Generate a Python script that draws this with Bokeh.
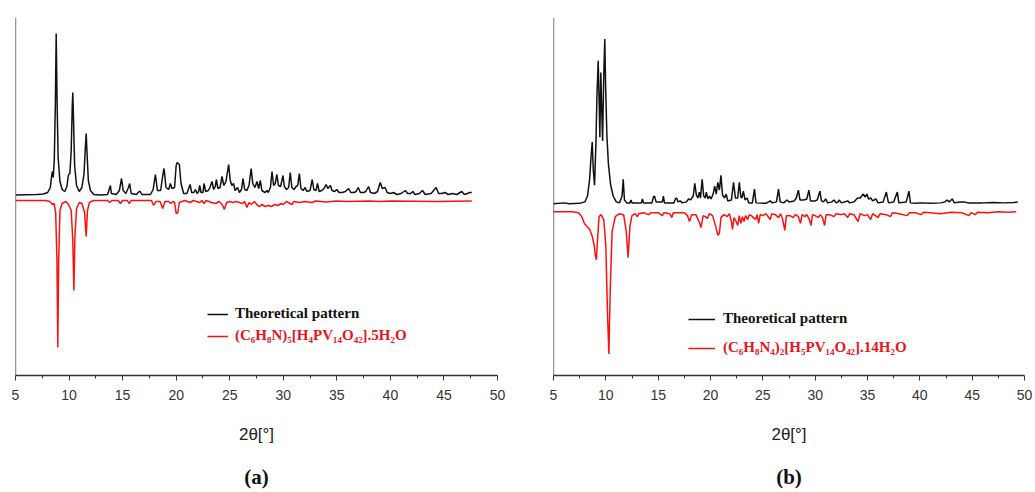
from bokeh.plotting import figure
from bokeh.models import Range1d, Span, Legend, LegendItem, LinearAxis, FixedTicker
from bokeh.layouts import row
from bokeh.embed import file_html
from bokeh.resources import INLINE

# ---------------- data (2theta, relative intensity) ----------------
x_ticks = [5, 10, 15, 20, 25, 30, 35, 40, 45, 50]
x_minor = [7.5, 12.5, 17.5, 22.5, 27.5, 32.5, 37.5, 42.5, 47.5]

label_theo = "Theoretical pattern"
label_a = "(C\u2086H\u2088N)\u2085[H\u2084PV\u2081\u2084O\u2084\u2082].5H\u2082O"
label_b = "(C\u2086H\u2088N\u2084)\u2082[H\u2085PV\u2081\u2084O\u2084\u2082].14H\u2082O"

# panel (a): theoretical pattern
theo_a = [(5.0,0.5),(6.0,0.8),(7.0,1),(7.6,1.5),(8.0,3),(8.25,8),(8.38,20),(8.45,24),(8.52,18),(8.62,35),(8.72,90),(8.8,162),(8.88,95),(8.98,38),(9.15,14),(9.35,6),(9.6,4),(9.8,9),(9.93,20),(9.98,21),(10.08,22),(10.2,45),(10.3,90),(10.35,103),(10.42,75),(10.52,30),(10.7,10),(10.95,4),(11.2,8),(11.4,22),(11.52,48),(11.6,62),(11.68,42),(11.8,15),(12.0,5),(12.3,1),(13.0,0.5),(13.6,1),(13.8,8),(13.86,10),(13.95,2),(14.4,1),(14.7,5),(14.9,17),(15.05,5),(15.3,2),(15.55,8),(15.66,12),(15.8,2),(16.3,1),(16.55,4),(16.65,4),(16.8,1),(17.6,1),(17.85,6),(18.06,21),(18.25,5),(18.55,5),(18.75,20),(18.87,27),(19.05,8),(19.3,6),(19.46,12),(19.6,7),(19.85,8),(20.0,30),(20.1,33),(20.3,31),(20.45,12),(20.7,2),(21.0,2),(21.2,8),(21.3,11),(21.45,3),(21.65,3),(21.8,6),(21.95,2),(22.1,4),(22.2,10),(22.32,3),(22.5,3),(22.6,12),(22.75,4),(23.0,5),(23.15,8),(23.35,14),(23.5,6),(23.65,9),(23.75,16),(23.9,7),(24.1,8),(24.28,19),(24.45,10),(24.65,14),(24.9,31),(25.05,15),(25.2,10),(25.36,12),(25.5,5),(25.74,8),(25.9,3),(26.1,6),(26.24,17),(26.4,6),(26.6,5),(26.8,10),(27.0,27),(27.15,12),(27.35,8),(27.55,14),(27.7,7),(27.86,15),(28.0,5),(28.3,3),(28.48,5),(28.6,3),(28.8,8),(28.95,24),(29.1,10),(29.25,12),(29.4,21),(29.55,10),(29.75,9),(29.97,20),(30.1,9),(30.3,6),(30.5,8),(30.65,23),(30.8,8),(31.0,6),(31.2,9),(31.35,10),(31.5,22),(31.65,7),(31.85,5),(32.05,8),(32.2,4),(32.5,5),(32.7,16),(32.85,6),(33.05,5),(33.2,12),(33.35,4),(33.6,5),(33.8,7),(34.0,11),(34.15,7),(34.4,10),(34.55,5),(34.8,4),(35.0,6),(35.2,3),(35.5,3),(35.8,4),(36.1,7),(36.3,3),(36.6,3),(36.8,4),(37.0,8),(37.2,3),(37.5,3),(37.7,4),(37.96,9),(38.15,3),(38.5,2),(38.8,4),(39.05,13),(39.25,7),(39.5,8),(39.7,3),(40.0,2),(40.3,3),(40.6,1),(41.0,2),(41.4,5),(41.6,2),(41.9,2),(42.1,4),(42.3,1),(42.7,2),(43.0,5),(43.25,1),(43.8,2),(44.27,8),(44.5,2),(44.8,2),(45.1,3),(45.4,1),(45.8,2),(46.2,1),(46.67,4),(46.9,1),(47.2,2),(47.4,3),(47.6,3)]

# panel (a): experimental pattern (depth below its baseline)
exp_a = [(5.0,0),(7.8,0),(8.2,1),(8.45,4),(8.6,3),(8.75,12),(8.87,60),(8.95,147),(9.03,60),(9.15,10),(9.35,3),(9.7,1),(9.95,4),(10.2,10),(10.35,40),(10.45,90),(10.55,35),(10.7,8),(10.95,2),(11.2,3),(11.45,12),(11.6,36),(11.72,10),(11.9,2),(12.3,0),(13.6,0),(13.8,2),(14.0,0),(14.6,0),(14.8,3),(15.0,0),(15.45,0),(15.6,3),(15.8,0),(17.7,0),(17.9,5),(18.1,1),(18.5,1),(18.74,8),(18.95,1),(19.3,1),(19.5,3),(19.7,1),(19.85,2),(20.0,13),(20.15,12),(20.3,2),(20.8,0),(21.3,2),(21.6,0),(22.2,2),(22.4,0),(22.6,3),(22.8,0),(23.3,2),(23.7,3),(24.0,1),(24.3,4),(24.5,9),(24.7,2),(25.0,1),(25.3,2),(25.6,1),(26.2,3),(26.4,1),(26.6,7),(26.8,2),(27.0,4),(27.3,1),(27.6,5),(27.8,6),(28.0,4),(28.3,6),(28.6,5),(28.9,6),(29.2,4),(29.5,5),(29.8,3),(30.0,4),(30.3,1),(30.8,4),(31.0,1),(31.5,2),(32.0,1),(32.7,2),(33.0,0.5),(34.0,1.5),(35.0,0.5),(36.0,1),(38.0,0.5),(39.0,1),(40.0,0.5),(44.3,1),(47.6,0.5)]

# panel (b): theoretical pattern
theo_b = [(5.0,0),(6.0,1),(6.5,0),(7.5,0.5),(8.0,2),(8.25,8),(8.45,25),(8.6,50),(8.7,63),(8.8,35),(8.92,19),(9.05,60),(9.15,110),(9.27,146),(9.35,110),(9.43,68),(9.52,134),(9.6,100),(9.69,64),(9.8,130),(9.9,168),(9.98,120),(10.1,70),(10.25,40),(10.45,20),(10.7,8),(11.0,2),(11.3,1),(11.55,8),(11.66,25),(11.78,4),(12.0,1),(12.3,1),(12.4,4),(12.5,1),(13.4,1),(13.5,5),(13.6,1),(14.4,1),(14.55,7),(14.65,8),(14.8,2),(15.4,2),(15.5,8),(15.6,1),(16.5,1),(16.65,5),(16.77,6),(16.9,2),(17.1,3),(17.3,1),(17.7,2),(17.9,5),(18.1,4),(18.35,8),(18.5,21),(18.65,9),(18.8,6),(18.93,12),(19.05,6),(19.2,25),(19.35,8),(19.5,6),(19.6,12),(19.75,5),(19.9,8),(20.05,5),(20.25,10),(20.4,18),(20.55,10),(20.7,22),(20.85,14),(21.0,29),(21.15,9),(21.35,6),(21.5,10),(21.65,3),(22.0,4),(22.2,22),(22.38,6),(22.6,6),(22.75,22),(22.9,7),(23.0,6),(23.14,13),(23.3,4),(23.5,6),(23.65,1),(24.0,1),(24.2,15),(24.35,1),(25.3,0.5),(25.55,2),(25.7,3),(25.9,1),(26.3,2),(26.5,15),(26.65,2),(27.0,1),(27.3,4),(27.5,2),(28.0,3),(28.2,6),(28.4,14),(28.55,4),(28.9,4),(29.2,5),(29.4,14),(29.55,3),(30.0,3),(30.2,4),(30.45,13),(30.6,3),(30.8,2),(31.0,5),(31.2,1),(31.6,2),(31.8,4),(32.0,1),(32.2,2),(32.3,4),(32.5,1),(33.1,3),(33.3,1),(33.7,2),(34.05,6),(34.3,6),(34.6,10),(34.78,7),(34.95,10),(35.1,5),(35.3,6),(35.5,3),(35.8,5),(36.0,1),(36.5,2),(36.8,12),(37.0,1),(37.5,2),(37.85,12),(38.0,1),(38.7,2),(38.96,13),(39.1,1),(39.6,0.5),(40.1,1),(41.0,0.5),(42.0,1),(42.4,2),(42.6,4),(42.8,2),(43.1,5),(43.3,1),(43.8,2),(44.2,2),(44.6,1),(45.2,1),(46.0,1),(47.0,1.5),(48.0,1),(49.0,1.5),(49.35,2)]

# panel (b): experimental pattern (depth below its baseline)
exp_b = [(5.0,0),(6.8,0),(7.4,1),(7.7,5),(7.95,12),(8.2,15),(8.45,18),(8.7,25),(8.9,35),(9.0,45),(9.1,49),(9.2,30),(9.35,5),(9.55,3),(9.8,8),(10.0,35),(10.15,100),(10.29,145),(10.42,80),(10.6,20),(10.9,5),(11.3,2),(11.7,3),(11.95,20),(12.13,47),(12.3,15),(12.5,4),(12.8,2),(13.0,5),(13.15,2),(13.6,1),(14.1,3),(14.3,1),(15.0,1),(15.4,4),(15.55,1),(16.1,2),(16.3,6),(16.45,1),(17.5,1),(17.8,4),(18.0,10),(18.2,3),(18.6,3),(18.9,10),(19.1,16),(19.3,4),(19.5,5),(19.7,7),(19.9,2),(20.2,4),(20.5,15),(20.7,24),(20.85,22),(21.0,6),(21.3,3),(21.6,5),(21.8,2),(22.0,10),(22.1,18),(22.25,6),(22.45,10),(22.6,14),(22.75,4),(22.9,12),(23.05,5),(23.2,10),(23.35,4),(23.55,8),(23.7,3),(23.9,4),(24.1,6),(24.3,8),(24.45,3),(24.6,12),(24.75,3),(25.0,4),(25.3,2),(25.7,8),(25.85,2),(26.2,3),(26.5,6),(26.7,2),(26.9,8),(27.1,19),(27.25,4),(27.6,4),(27.9,6),(28.1,3),(28.4,5),(28.6,12),(28.75,3),(29.0,5),(29.2,3),(29.45,8),(29.6,14),(29.75,3),(30.0,4),(30.3,6),(30.5,3),(30.7,6),(30.9,14),(31.05,3),(31.4,3),(31.8,5),(32.0,2),(32.5,3),(32.8,2),(33.1,6),(33.3,2),(33.7,3),(34.1,10),(34.3,2),(34.7,4),(35.0,3),(35.3,8),(35.5,2),(36.0,6),(36.2,2),(36.8,3),(37.2,5),(37.4,1),(38.0,2),(38.8,4),(39.0,1),(39.6,1),(40.1,3),(40.4,0.5),(41.0,1),(42.0,2),(43.0,0.5),(44.0,1),(44.7,4),(44.9,1),(45.3,3),(45.5,0.5),(46.5,1),(47.5,0),(48.5,0.5),(49.2,0)]

BLACK = "#111111"
RED = "#ff1010"
AXIS = "#333333"


def make_panel(theo, exp, exp_label, tag, width, height, b_left, b_right, b_top, b_bottom,
               y_top, base_t, base_e, leg_x, leg_y_t, leg_y_e, glyph_w, standoff):
    p = figure(width=width, height=height, output_backend="svg", toolbar_location=None,
               x_range=Range1d(5, 50), y_range=Range1d(0, y_top),
               min_border_left=b_left, min_border_right=b_right, min_border_top=b_top,
               min_border_bottom=b_bottom)
    p.outline_line_color = None
    p.grid.visible = False
    p.yaxis.visible = False
    p.background_fill_color = "white"
    p.border_fill_color = "white"

    tx = [a for a, b in theo]
    ty = [base_t + b for a, b in theo]
    ex = [a for a, b in exp]
    ey = [base_e - b for a, b in exp]
    r_t = p.line(tx, ty, line_color=BLACK, line_width=1.5)
    r_e = p.line(ex, ey, line_color=RED, line_width=1.5)

    p.add_layout(Span(location=5, dimension="height", line_color=AXIS, line_width=1.3))

    ax = p.xaxis[0]
    ax.ticker = FixedTicker(ticks=x_ticks, minor_ticks=x_minor)
    ax.axis_line_color = AXIS
    ax.axis_line_width = 1.3
    ax.major_tick_line_color = AXIS
    ax.minor_tick_line_color = AXIS
    ax.major_tick_in = 0
    ax.major_tick_out = 5
    ax.minor_tick_in = 0
    ax.minor_tick_out = 3
    ax.major_label_text_font = "Liberation Sans"
    ax.major_label_text_font_size = "14px"
    ax.major_label_text_color = "#333333"
    ax.major_label_standoff = 9
    ax.axis_label = "2\u03b8[\u00b0]"
    ax.axis_label_text_font = "Liberation Sans"
    ax.axis_label_text_font_style = "normal"
    ax.axis_label_text_font_size = "17px"
    ax.axis_label_text_color = "#222222"
    ax.axis_label_standoff = 22

    # panel tag "(a)" / "(b)" as the label of a bare second bottom axis
    tag_axis = LinearAxis(ticker=FixedTicker(ticks=[]), axis_line_color=None,
                          major_tick_line_color=None, minor_tick_line_color=None,
                          major_label_text_font_size="0px", major_tick_out=0,
                          minor_tick_out=0, major_label_standoff=0,
                          axis_label=tag, axis_label_standoff=18,
                          axis_label_text_font="Liberation Serif",
                          axis_label_text_font_style="bold",
                          axis_label_text_font_size="21px",
                          axis_label_text_color="#111111")
    p.add_layout(tag_axis, "below")

    for item_label, rend, col, ly in ((label_theo, r_t, "#111111", leg_y_t),
                                      (exp_label, r_e, "#e8141c", leg_y_e)):
        leg = Legend(items=[LegendItem(label=item_label, renderers=[rend])],
                     location=(leg_x, ly), padding=0, margin=0, spacing=0,
                     border_line_color=None, background_fill_alpha=0,
                     glyph_width=glyph_w, glyph_height=16, label_height=16,
                     label_standoff=standoff, label_text_font="Liberation Serif",
                     label_text_font_style="bold", label_text_font_size="15px",
                     label_text_color=col)
        p.add_layout(leg, "center")
    return p


pa = make_panel(theo_a, exp_a, label_a, "(a)", 520, 492, 15, 23, 17, 117,
                358, 180, 175, 192, 53, 31, 21, 7)
pb = make_panel(theo_b, exp_b, label_b, "(b)", 515, 492, 33, 11, 11, 116,
                365, 175, 167, 135, 48, 19, 27, 8)

layout = row(pa, pb, spacing=0)
open("out.html", "w").write(file_html(layout, INLINE))
